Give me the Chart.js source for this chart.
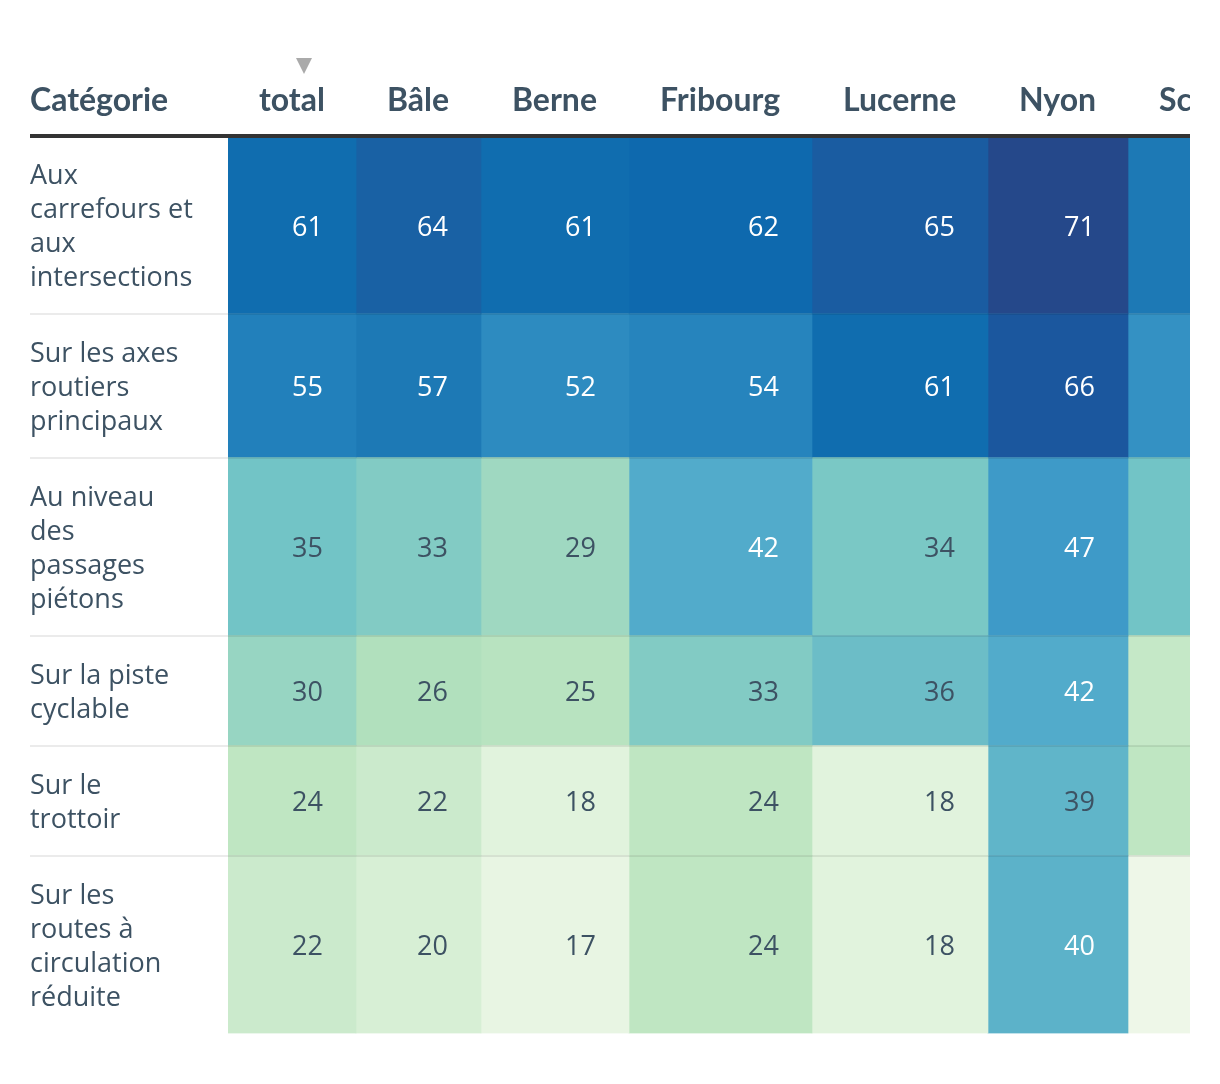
<!DOCTYPE html>
<html>
<head>
<meta charset="utf-8">
<script src="https://cdn.jsdelivr.net/npm/chart.js@4.4.1/dist/chart.umd.min.js"></script>
<style>
  html, body { margin: 0; background: #fff; }
  #wrap { position: absolute; left: 0; top: 0; width: 1190px; height: 1084px; overflow: hidden; }
</style>
</head>
<body>
<div id="wrap"><canvas id="heatTable"></canvas></div>
<script>
// --- data ---
const firstHeader = 'Catégorie';
const columns = ['total', 'Bâle', 'Berne', 'Fribourg', 'Lucerne', 'Nyon', 'Schaffhouse'];
const categories = [
    ['Aux', 'carrefours et', 'aux', 'intersections'],
    ['Sur les axes', 'routiers', 'principaux'],
    ['Au niveau', 'des', 'passages', 'piétons'],
    ['Sur la piste', 'cyclable'],
    ['Sur le', 'trottoir'],
    ['Sur les', 'routes à', 'circulation', 'réduite']
];
const total = [61, 55, 35, 30, 24, 22];
const bale = [64, 57, 33, 26, 22, 20];
const berne = [61, 52, 29, 25, 18, 17];
const fribourg = [62, 54, 42, 33, 24, 24];
const lucerne = [65, 61, 34, 36, 18, 18];
const nyon = [71, 66, 47, 42, 39, 40];
const schaffhouse = [57, 50, 35, 23, 24, 16]; // hidden values, guessed from the colour
const values = [total, bale, berne, fribourg, lucerne, nyon, schaffhouse];

// colour ramp (value -> colour)
const rampValues = [16, 18, 20, 22, 24, 26, 29, 30, 33, 35, 36, 40, 42, 47, 52, 55, 57, 61, 62, 64, 66, 71];
const rampColors = ['#eef7e8', '#e1f3dd', '#d7efd5', '#cbeacc', '#bfe6c2', '#b1e0bd', '#9fd8c1', '#97d5c2',
    '#82cbc4', '#72c4c6', '#6cbdc7', '#5cb2c9', '#52abcb', '#3e9ac8', '#2d8bc0', '#2280bb', '#1d79b5',
    '#106daf', '#0e69ae', '#1961a4', '#1b579e', '#25488a'];

const FONT = '"Open Sans", "Noto Sans", sans-serif';
const HEAD_FONT = 'Lato, "Open Sans", sans-serif';
const TEXT = '#3d5263';
const LINE_H = 34;
const ROW_PAD = 42;
const HEAD_PAD = 31;   // space left of a column header
const NUM_PAD = 33;    // space right of a cell value
const LABEL_COL = 198;
const LEFT = 30;
const HEADER_H = 135.5;
const PAGE_H = 1084;

function hexToRgb(h) {
    const n = parseInt(h.slice(1), 16);
    return [(n >> 16) & 255, (n >> 8) & 255, n & 255];
}
function colorFor(v) {
    if (v <= rampValues[0]) return rampColors[0];
    for (let i = 1; i < rampValues.length; i++) {
        if (v <= rampValues[i]) {
            const t = (v - rampValues[i - 1]) / (rampValues[i] - rampValues[i - 1]);
            const a = hexToRgb(rampColors[i - 1]), b = hexToRgb(rampColors[i]);
            const c = a.map((x, k) => Math.round(x + (b[k] - x) * t));
            return `rgb(${c[0]}, ${c[1]}, ${c[2]})`;
        }
    }
    return rampColors[rampColors.length - 1];
}

// --- layout derived from the texts ---
const measure = document.createElement('canvas').getContext('2d');
measure.font = `bold 32px ${HEAD_FONT}`;
const colWidths = columns.map(c => Math.ceil(measure.measureText(c).width) + 2 * HEAD_PAD);
const colLefts = [];
colWidths.reduce((acc, w) => { colLefts.push(acc); return acc + w; }, 0);
const tableW = colWidths.reduce((a, b) => a + b, 0);

const rowHeights = categories.map(lines => lines.length * LINE_H + ROW_PAD);
const rowTops = [];
rowHeights.reduce((acc, h) => { rowTops.push(acc); return acc + h; }, 0);
const tableH = rowHeights.reduce((a, b) => a + b, 0);

const yTicks = [];
categories.forEach((_, r) => {
    yTicks.push({ value: rowTops[r] });
    yTicks.push({ value: rowTops[r] + rowHeights[r] / 2 });
});
const xTicks = [{ value: -LABEL_COL }].concat(colLefts.map(l => ({ value: l + HEAD_PAD })));
const headers = [firstHeader].concat(columns);

const canvas = document.getElementById('heatTable');
canvas.width = LEFT + LABEL_COL + tableW;
canvas.height = PAGE_H;
canvas.style.width = canvas.width + 'px';
canvas.style.height = PAGE_H + 'px';

const cellValues = {
    id: 'cellValues',
    afterDatasetsDraw(chart) {
        const ctx = chart.ctx;
        ctx.save();
        ctx.font = `27px ${FONT}`;
        ctx.textAlign = 'right';
        ctx.textBaseline = 'middle';
        chart.data.datasets.forEach((ds, i) => {
            chart.getDatasetMeta(i).data.forEach((bar, j) => {
                const p = bar.getProps(['x', 'y', 'base', 'width'], true);
                const v = ds.data[j].v;
                ctx.fillStyle = v >= 40 ? '#ffffff' : TEXT;
                ctx.fillText(String(v), p.x + p.width / 2 - NUM_PAD, (p.y + p.base) / 2 + 3);
            });
        });
        ctx.restore();
    },
    afterDraw(chart) {
        // sort marker above the "total" header
        const x = chart.scales.x;
        const cx = x.getPixelForValue(colLefts[0] + colWidths[0]) - NUM_PAD - 19;
        const ctx = chart.ctx;
        ctx.save();
        ctx.fillStyle = '#aaaaaa';
        ctx.beginPath();
        ctx.moveTo(cx - 8, 58);
        ctx.lineTo(cx + 8, 58);
        ctx.lineTo(cx, 74);
        ctx.closePath();
        ctx.fill();
        ctx.restore();
    }
};

new Chart(canvas.getContext('2d'), {
    type: 'bar',
    data: {
        datasets: columns.map((name, c) => ({
            label: name,
            data: values[c].map((v, r) => ({
                x: colLefts[c] + colWidths[c] / 2,
                y: [rowTops[r], rowTops[r] + rowHeights[r]],
                v: v
            })),
            grouped: false,
            barThickness: colWidths[c],
            backgroundColor: (ctx) => colorFor(ctx.raw.v),
            borderWidth: 0
        }))
    },
    options: {
        responsive: false,
        animation: false,
        layout: { padding: { left: LEFT, top: 0, right: 0, bottom: PAGE_H - HEADER_H - tableH } },
        plugins: {
            legend: { display: false },
            tooltip: { enabled: false }
        },
        scales: {
            x: {
                type: 'linear',
                position: 'top',
                offset: false,
                min: 0,
                max: tableW,
                grid: { display: false, drawTicks: false, offset: false },
                border: { display: false },
                afterBuildTicks: (scale) => { scale.ticks = xTicks.map(t => ({ value: t.value })); },
                afterFit: (scale) => { scale.height = HEADER_H; scale.paddingLeft = 0; scale.paddingRight = 0; },
                ticks: {
                    autoSkip: false,
                    maxRotation: 0,
                    align: 'start',
                    padding: 16,
                    color: TEXT,
                    font: { family: HEAD_FONT, size: 32, weight: 'bold' },
                    callback: (value, index) => headers[index]
                }
            },
            y: {
                type: 'linear',
                reverse: true,
                min: 0,
                max: tableH,
                afterBuildTicks: (scale) => { scale.ticks = yTicks.map(t => ({ value: t.value })); },
                afterFit: (scale) => { scale.width = LABEL_COL; scale.paddingTop = 0; scale.paddingBottom = 0; },
                grid: {
                    z: 1,
                    tickLength: LABEL_COL,
                    color: (ctx) => ctx.index % 2 ? 'rgba(0,0,0,0)' : (ctx.index === 0 ? '#333333' : 'rgba(0,0,0,0.08)'),
                    lineWidth: (ctx) => ctx.index === 0 ? 4 : 2
                },
                border: { display: false },
                ticks: {
                    autoSkip: false,
                    crossAlign: 'far',
                    padding: 0,
                    labelOffset: 3,
                    color: TEXT,
                    font: { family: FONT, size: 27, lineHeight: '34px' },
                    callback: (value, index) => index % 2 ? categories[(index - 1) / 2] : ''
                }
            }
        }
    },
    plugins: [cellValues]
});
</script>
</body>
</html>
